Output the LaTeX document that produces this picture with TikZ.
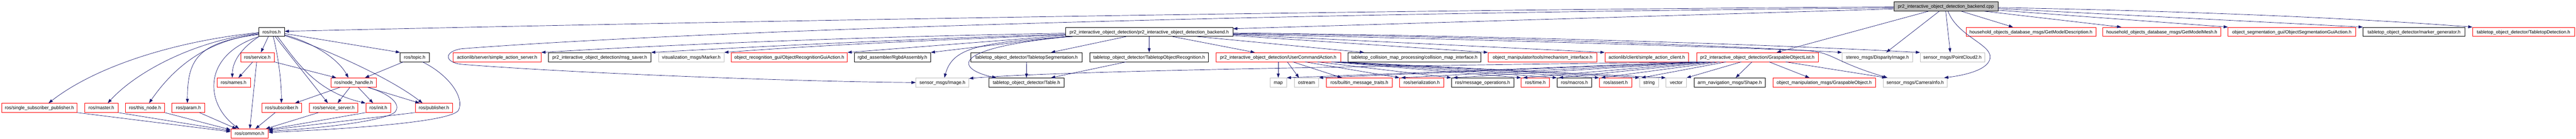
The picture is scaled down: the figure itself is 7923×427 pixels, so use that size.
\documentclass[tikz,border=0pt]{standalone}
\usepackage{fontspec}
\setmainfont{Liberation Sans}
\usetikzlibrary{arrows.meta}
\definecolor{edgec}{HTML}{191970}
\definecolor{dred}{HTML}{FF0000}
\definecolor{dgray}{HTML}{BFBFBF}
\newcommand\nodefnt{\fontsize{14.3pt}{16pt}\selectfont}
\tikzset{
  nb/.style={draw=black, fill=white, line width=1.2pt, minimum height=28pt, inner sep=0pt, text height=10.2pt, text depth=0pt, font=\nodefnt},
  nr/.style={nb, draw=dred},
  ng/.style={nb, draw=dgray},
  ntop/.style={nb, fill=dgray},
  e/.style={draw=edgec, line width=1.1pt, -{Triangle[length=13pt,width=9pt]}},
}
\begin{document}
\begin{tikzpicture}[x=1pt,y=-1pt]
\useasboundingbox (0,0) rectangle (7923,427);
% row 0
\node[ntop, minimum width=320pt] (cpp) at (5985,20) {pr2\_interactive\_object\_detection\_backend.cpp};
% row 1
\node[nb, minimum width=79pt] (rosh) at (835.5,98) {ros/ros.h};
\node[nb, minimum width=515pt] (backendh) at (3534.5,98) {pr2\_interactive\_object\_detection/pr2\_interactive\_object\_detection\_backend.h};
\node[nr, minimum width=399pt] (getdesc) at (6246.5,98) {household\_objects\_database\_msgs/GetModelDescription.h};
\node[nr, minimum width=362pt] (getmesh) at (6649,98) {household\_objects\_database\_msgs/GetModelMesh.h};
\node[nr, minimum width=392pt] (seggui) at (7049,98) {object\_segmentation\_gui/ObjectSegmentationGuiAction.h};
\node[nb, minimum width=314pt] (markergen) at (7425,98) {tabletop\_object\_detector/marker\_generator.h};
\node[nr, minimum width=313pt] (tabdet) at (7761.5,98) {tabletop\_object\_detector/TabletopDetection.h};
% row 2
\node[nr, minimum width=103pt] (service) at (791.5,176) {ros/service.h};
\node[nb, minimum width=89pt] (topic) at (1275.5,176) {ros/topic.h};
\node[nr, minimum width=270pt] (sas) at (1529,176) {actionlib/server/simple\_action\_server.h};
\node[nb, minimum width=315pt] (msgsaver) at (1844.5,176) {pr2\_interactive\_object\_detection/msg\_saver.h};
\node[ng, minimum width=202pt] (marker) at (2126,176) {visualization\_msgs/Marker.h};
\node[nr, minimum width=357pt] (recgui) at (2427.5,176) {object\_recognition\_gui/ObjectRecognitionGuiAction.h};
\node[nb, minimum width=234pt] (rgbd) at (2745,176) {rgbd\_assembler/RgbdAssembly.h};
\node[nb, minimum width=343pt] (tseg) at (3157.5,176) {tabletop\_object\_detector/TabletopSegmentation.h};
\node[nb, minimum width=365pt] (trec) at (3534.5,176) {tabletop\_object\_detector/TabletopObjectRecognition.h};
\node[nr, minimum width=383pt] (usercmd) at (3931.5,176) {pr2\_interactive\_object\_detection/UserCommandAction.h};
\node[nb, minimum width=409pt] (collmap) at (4350.5,176) {tabletop\_collision\_map\_processing/collision\_map\_interface.h};
\node[nr, minimum width=335pt] (mech) at (4744.5,176) {object\_manipulator/tools/mechanism\_interface.h};
\node[nr, minimum width=258pt] (sac) at (5065,176) {actionlib/client/simple\_action\_client.h};
\node[nr, minimum width=374pt] (gol) at (5405,176) {pr2\_interactive\_object\_detection/GraspableObjectList.h};
\node[ng, minimum width=217pt] (disp) at (5774.5,176) {stereo\_msgs/DisparityImage.h};
\node[ng, minimum width=198pt] (pc2) at (6005,176) {sensor\_msgs/PointCloud2.h};
% row 3
\node[nr, minimum width=103pt] (names) at (718.5,254) {ros/names.h};
\node[nr, minimum width=140pt] (nodehandle) at (1088,254) {ros/node\_handle.h};
\node[ng, minimum width=163pt] (image) at (2898.5,254) {sensor\_msgs/Image.h};
\node[nb, minimum width=230pt] (table) at (3157,254) {tabletop\_object\_detector/Table.h};
\node[ng, minimum width=51pt] (map) at (3931.5,254) {map};
\node[ng, minimum width=75pt] (ostream) at (4018.5,254) {ostream};
\node[nr, minimum width=202pt] (bmt) at (4181,254) {ros/builtin\_message\_traits.h};
\node[nr, minimum width=135pt] (ser) at (4372.5,254) {ros/serialization.h};
\node[nb, minimum width=192pt] (msgops) at (4560,254) {ros/message\_operations.h};
\node[nr, minimum width=87pt] (time) at (4722.5,254) {ros/time.h};
\node[nb, minimum width=107pt] (macros) at (4842.5,254) {ros/macros.h};
\node[nr, minimum width=100pt] (assert) at (4969,254) {ros/assert.h};
\node[ng, minimum width=58pt] (string) at (5072,254) {string};
\node[ng, minimum width=63pt] (vector) at (5155.5,254) {vector};
\node[nb, minimum width=220pt] (shape) at (5320,254) {arm\_navigation\_msgs/Shape.h};
\node[nr, minimum width=315pt] (gobj) at (5610.5,254) {object\_manipulation\_msgs/GraspableObject.h};
\node[ng, minimum width=197pt] (caminfo) at (5890.5,254) {sensor\_msgs/CameraInfo.h};
% row 4
\node[nr, minimum width=232pt] (ssp) at (121,332) {ros/single\_subscriber\_publisher.h};
\node[nr, minimum width=103pt] (master) at (311.5,332) {ros/master.h};
\node[nr, minimum width=120pt] (thisnode) at (446,332) {ros/this\_node.h};
\node[nr, minimum width=101pt] (param) at (579.5,332) {ros/param.h};
\node[nr, minimum width=123pt] (subscriber) at (866.5,332) {ros/subscriber.h};
\node[nr, minimum width=149pt] (sserver) at (1026.5,332) {ros/service\_server.h};
\node[nr, minimum width=77pt] (init) at (1163.5,332) {ros/init.h};
\node[nr, minimum width=115pt] (publisher) at (1334.5,332) {ros/publisher.h};
% row 5
\node[nr, minimum width=115pt] (common) at (767.5,411) {ros/common.h};

% ---- edges from cpp
\draw[e] ([yshift=-16pt]cpp.north west) .. controls (4200,30) and (2000,70) .. ([yshift=-13pt]rosh.north east);
\draw[e] ([yshift=-19pt]cpp.north west) .. controls (3500,45) and (2000,105) .. (1420,150) .. controls (1365,158) and (1365,192) .. (1420,198) .. controls (1800,228) and (2500,252) .. (image.west);
\draw[e] ([yshift=-22pt]cpp.north west) -- ([yshift=-5pt]backendh.north east);
\draw[e] ([xshift=107pt]cpp.south west) -- ([xshift=247pt]gol.north west);
\draw[e] ([xshift=140pt]cpp.south west) -- ([xshift=136pt]disp.north west);
\draw[e] ([xshift=160pt]cpp.south west) -- ([xshift=93pt]pc2.north west);
\draw[e] ([xshift=167pt]cpp.south west) .. controls (6020,110) and (6121,135) .. (6121,175) .. controls (6121,215) and (6040,232) .. ([xshift=188pt]caminfo.north west);
\draw[e] ([xshift=208pt]cpp.south west) -- ([xshift=145pt]getdesc.north west);
\draw[e] ([xshift=279pt]cpp.south west) -- ([xshift=57pt]getmesh.north west);
\draw[e] ([yshift=-26pt]cpp.north east) -- (seggui.north west);
\draw[e] ([yshift=-21pt]cpp.north east) -- (markergen.north west);
\draw[e] ([yshift=-18pt]cpp.north east) .. controls (6800,35) and (7300,60) .. (tabdet.north west);

% ---- edges from backend.h
\draw[e] ([yshift=-19pt]backendh.north west) .. controls (2700,112) and (2100,135) .. (sas.north east);
\draw[e] ([yshift=-22pt]backendh.north west) .. controls (2800,120) and (2300,145) .. (msgsaver.north east);
\draw[e] ([yshift=-24pt]backendh.north west) .. controls (2900,122) and (2500,140) .. (marker.north east);
\draw[e] ([yshift=-26pt]backendh.north west) -- (recgui.north east);
\draw[e] (backendh.south west) -- (rgbd.north east);
\draw[e] ([xshift=23pt]backendh.south west) .. controls (3000,130) and (2930,150) .. ([xshift=88pt]image.north west);
\draw[e] ([xshift=13pt]backendh.south west) .. controls (2900,150) and (2950,215) .. ([xshift=23pt]table.north west);
\draw[e] ([xshift=187pt]backendh.south west) -- ([xshift=247pt]tseg.north west);
\draw[e] (backendh.south) -- (trec.north);
\draw[e] ([xshift=330pt]backendh.south west) -- ([xshift=120pt]usercmd.north west);
\draw[e] ([xshift=406pt]backendh.south west) -- ([xshift=50pt]collmap.north west);
\draw[e] ([yshift=-26pt]backendh.north east) -- (mech.north west);
\draw[e] ([yshift=-23pt]backendh.north east) -- (sac.north west);
\draw[e] ([yshift=-20pt]backendh.north east) .. controls (4500,112) and (5200,135) .. (disp.north west);
\draw[e] ([yshift=-18pt]backendh.north east) .. controls (4600,110) and (5400,135) .. (pc2.north west);
\draw[e] ([yshift=-22pt]backendh.north east) .. controls (4600,122) and (5300,145) .. (5560,156) .. controls (5640,162) and (5640,190) .. ([xshift=14pt]caminfo.north west);

% ---- edges from ros.h
\draw[e] ([yshift=-17pt]rosh.north west) .. controls (550,125) and (300,200) .. ([xshift=145pt]ssp.north west);
\draw[e] ([yshift=-19pt]rosh.north west) .. controls (600,125) and (420,220) .. ([xshift=72pt]master.north west);
\draw[e] ([yshift=-21pt]rosh.north west) .. controls (640,125) and (540,200) .. ([xshift=73pt]thisnode.north west);
\draw[e] ([yshift=-23pt]rosh.north west) .. controls (600,130) and (577,190) .. ([xshift=48pt]param.north west);
\draw[e] ([xshift=1pt]rosh.south west) .. controls (620,170) and (630,320) .. ([xshift=26pt]common.north west);
\draw[e] ([xshift=1pt]rosh.south west) .. controls (740,150) and (715,190) .. ([xshift=48pt]names.north west);
\draw[e] ([xshift=30pt]rosh.south west) -- ([xshift=63pt]service.north west);
\draw[e] ([xshift=45pt]rosh.south west) .. controls (855,170) and (866,250) .. ([xshift=61pt]subscriber.north west);
\draw[e] ([xshift=51pt]rosh.south west) -- ([xshift=57pt]sserver.north west);
\draw[e] ([xshift=58pt]rosh.south west) .. controls (900,170) and (960,280) .. (init.north west);
\draw[e] ([yshift=-24pt]rosh.north east) .. controls (960,130) and (1040,180) .. ([xshift=54pt]nodehandle.north west);
\draw[e] ([yshift=-20pt]rosh.north east) -- (topic.north west);
\draw[e] ([yshift=-26pt]rosh.north east) .. controls (1000,150) and (1200,240) .. ([xshift=23pt]publisher.north west);

% ---- service.h, topic.h, node_handle.h
\draw[e] ([xshift=38pt]service.south west) -- ([xshift=67pt]names.north west);
\draw[e] ([xshift=50pt]service.south west) -- ([xshift=59pt]common.north west);
\draw[e] (service.south east) -- ([xshift=17pt]nodehandle.north west);
\draw[e] ([xshift=10pt]topic.south west) -- ([xshift=105pt]nodehandle.north west);
\draw[e] ([xshift=69pt]topic.south west) .. controls (1380,230) and (1430,300) .. (1410,340) .. controls (1380,380) and (1000,400) .. ([yshift=-11pt]common.north east);
\draw[e] ([xshift=29pt]nodehandle.south west) -- ([xshift=103pt]subscriber.north west);
\draw[e] ([xshift=59pt]nodehandle.south west) -- ([xshift=87pt]sserver.north west);
\draw[e] ([xshift=84pt]nodehandle.south west) -- ([xshift=23pt]init.north west);
\draw[e] ([xshift=113pt]nodehandle.south west) -- ([xshift=14pt]publisher.north west);
\draw[e] ([xshift=115pt]nodehandle.south west) .. controls (1200,290) and (1235,320) .. (1215,345) .. controls (1180,375) and (950,398) .. ([yshift=-7pt]common.north east);

% ---- row 4 to common
\draw[e] (ssp.south east) -- ([yshift=-9pt]common.north west);
\draw[e] (master.south east) -- ([yshift=-6pt]common.north west);
\draw[e] (thisnode.south east) -- ([yshift=-3pt]common.north west);
\draw[e] ([xshift=85pt]param.south west) -- ([xshift=18pt]common.north west);
\draw[e] ([xshift=42pt]subscriber.south west) -- ([xshift=76pt]common.north west);
\draw[e] ([xshift=28pt]sserver.south west) -- ([xshift=108pt]common.north west);
\draw[e] (init.south west) -- ([yshift=-2pt]common.north east);
\draw[e] (publisher.south west) -- ([yshift=-4pt]common.north east);

% ---- tabletop
\draw[e] (tseg.south) -- (table.north);
\draw[e] ([xshift=112pt]trec.south west) -- ([xshift=191pt]table.north west);

% ---- UserCommandAction.h
\draw[e] (usercmd.south) -- (map.north);
\draw[e] ([xshift=220pt]usercmd.south west) -- ([xshift=15pt]ostream.north west);
\draw[e] ([xshift=237pt]usercmd.south west) -- ([xshift=48pt]bmt.north west);
\draw[e] ([xshift=275pt]usercmd.south west) -- (ser.north west);
\draw[e] ([xshift=313pt]usercmd.south west) -- (msgops.north west);
\draw[e] ([xshift=355pt]usercmd.south west) -- (time.north west);
\draw[e] ([xshift=365pt]usercmd.south west) -- (macros.north west);
\draw[e] ([xshift=372pt]usercmd.south west) -- (assert.north west);
\draw[e] ([xshift=378pt]usercmd.south west) -- (string.north west);
\draw[e] (usercmd.south east) -- (vector.north west);

% ---- GraspableObjectList.h
\draw[e] ([xshift=17pt]gol.south west) .. controls (4500,200) and (3300,215) .. ([yshift=-2pt]image.north east);
\draw[e] ([xshift=4pt]gol.south west) -- (map.north east);
\draw[e] ([xshift=12pt]gol.south west) -- (ostream.north east);
\draw[e] ([xshift=22pt]gol.south west) -- ([xshift=5pt]ser.north west);
\draw[e] ([xshift=32pt]gol.south west) -- ([xshift=6pt]msgops.north west);
\draw[e] ([xshift=44pt]gol.south west) -- ([xshift=6pt]time.north west);
\draw[e] ([xshift=57pt]gol.south west) -- ([xshift=6pt]macros.north west);
\draw[e] ([xshift=72pt]gol.south west) -- ([xshift=6pt]assert.north west);
\draw[e] ([xshift=91pt]gol.south west) -- ([xshift=6pt]string.north west);
\draw[e] ([xshift=138pt]gol.south west) -- (vector.north east);
\draw[e] ([xshift=171pt]gol.south west) -- ([xshift=129pt]shape.north west);
\draw[e] ([xshift=224pt]gol.south west) -- ([xshift=113pt]gobj.north west);
\draw[e] ([xshift=275pt]gol.south west) -- ([xshift=10pt]caminfo.north west);
\end{tikzpicture}
\end{document}
